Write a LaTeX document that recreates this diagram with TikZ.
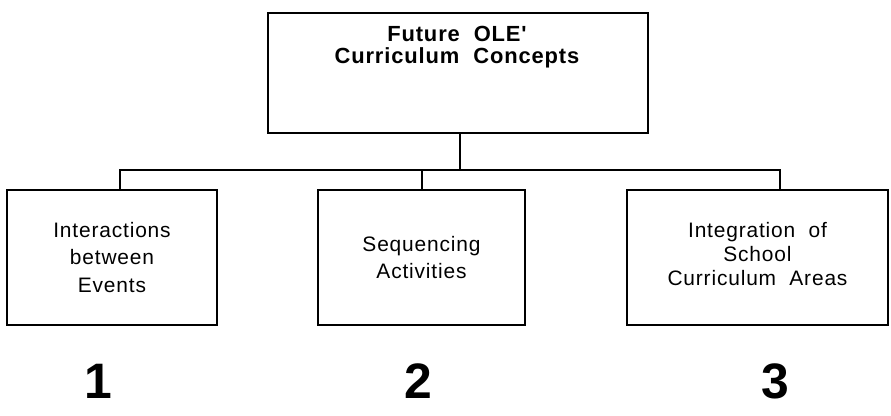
\documentclass[tikz,border=0pt]{standalone}
\usepackage{fontspec}
\setmainfont{Liberation Sans}
\newfontfamily\arialfont[LetterSpace=4]{Liberation Sans}
\begin{document}
\begin{tikzpicture}[x=1bp,y=-1bp,
  boxstyle/.style={draw=black, line width=2.6bp, inner sep=0pt, align=center},
  conn/.style={draw=black, line width=1.8bp},
  numstyle/.style={font=\fontsize{50}{50}\selectfont\bfseries, inner sep=0pt}]
\useasboundingbox (0,0) rectangle (891,415);
% top box
\node[boxstyle, minimum width=380bp, minimum height=120bp] (top) at (458,73) {};
\node[align=center, inner sep=0pt, font=\arialfont\fontsize{22}{22}\selectfont\bfseries] (toptext) at (457,47) {Future\ \ OLE'\\Curriculum\ \ Concepts};
% lower boxes
\node[boxstyle, minimum width=210bp, minimum height=135bp,
  font=\arialfont\fontsize{21}{28}\selectfont] (b1) at (112,257.5) {Interactions\\between\\Events};
\node[boxstyle, minimum width=207bp, minimum height=135bp,
  font=\arialfont\fontsize{21}{27}\selectfont] (b2) at (421.5,257.5) {Sequencing\\Activities};
\node[boxstyle, minimum width=261bp, minimum height=135bp] (b3) at (757.5,257.5) {};
\node[align=center, inner sep=0pt, font=\arialfont\fontsize{21}{24}\selectfont] (b3text) at (757.5,254) {Integration\ \ of\\School\\Curriculum\ \ Areas};
% connectors
\coordinate (j) at (460,170);
\coordinate (k1) at (120,170);
\coordinate (k2) at (422,170);
\coordinate (k3) at (780,170);
\coordinate (c1) at (120,190);
\coordinate (c2) at (422,190);
\coordinate (c3) at (780,190);
\draw[conn] (top.south -| j) -- (j);
\draw[conn] (c1) -- (k1) -- (k3) -- (c3);
\draw[conn] (k2) -- (c2);
% numbers
\node[numstyle] (n1) at (98,381) {1};
\node[numstyle] (n2) at (418,381) {2};
\node[numstyle] (n3) at (775,381) {3};
\end{tikzpicture}
\end{document}
